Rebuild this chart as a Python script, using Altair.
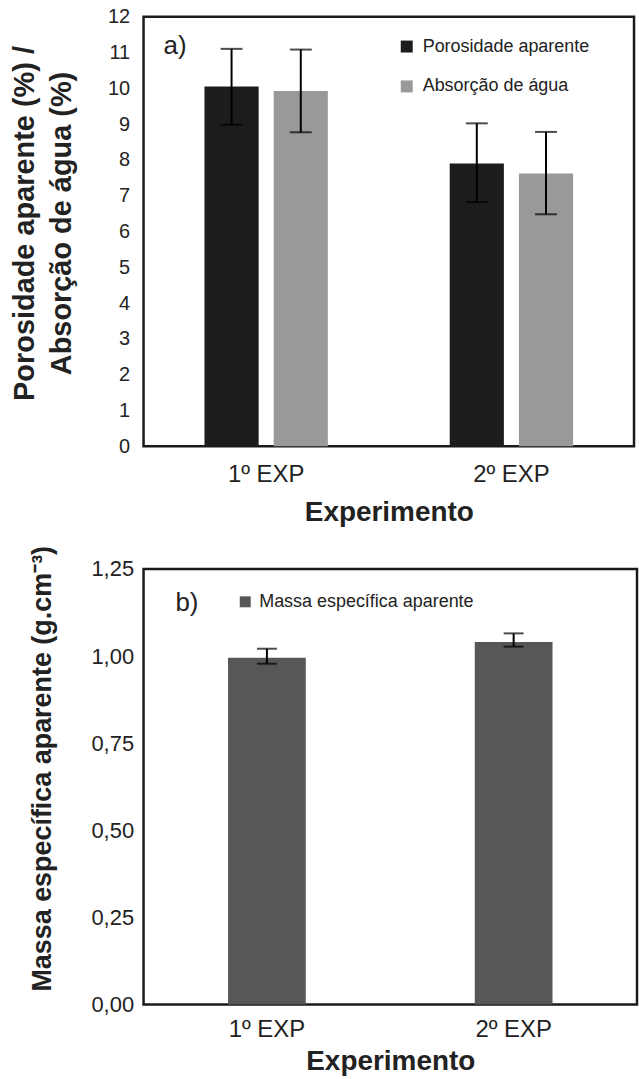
import altair as alt
import pandas as pd

# ---- data ----
experimentos = ["1º EXP", "2º EXP"]
series_a = ["Porosidade aparente", "Absorção de água"]
porosidade = [10.05, 7.90]
porosidade_inf = [8.98, 6.82]
porosidade_sup = [11.10, 9.02]
absorcao = [9.92, 7.62]
absorcao_inf = [8.77, 6.48]
absorcao_sup = [11.08, 8.78]

serie_b = ["Massa específica aparente"]
massa = [0.995, 1.040]
massa_inf = [0.978, 1.027]
massa_sup = [1.021, 1.065]

y_ticks_a = list(range(0, 13))
y_ticks_b = [0, 0.25, 0.5, 0.75, 1.0, 1.25]

FONT = "Liberation Sans"
TXT = "#222222"

# ---- tables ----
rows = []
for i, e in enumerate(experimentos):
    rows.append({"exp": e, "serie": series_a[0], "valor": porosidade[i],
                 "inf": porosidade_inf[i], "sup": porosidade_sup[i]})
    rows.append({"exp": e, "serie": series_a[1], "valor": absorcao[i],
                 "inf": absorcao_inf[i], "sup": absorcao_sup[i]})
df_a = pd.DataFrame(rows)

df_b = pd.DataFrame({"exp": experimentos, "serie": serie_b * 2, "valor": massa,
                     "inf": massa_inf, "sup": massa_sup})

title_a = ["Porosidade aparente (%) /", "Absorção de água (%)"]
title_b = "Massa específica aparente (g.cm⁻³)"


def x_axis(pad, tpad):
    return alt.Axis(labelAngle=0, ticks=False, domain=False, labelFontSize=24,
                    labelPadding=pad, titleFontSize=28, titleFontWeight="bold",
                    titlePadding=tpad)


def ya_axis():
    return alt.Axis(values=y_ticks_a, labelOverlap=False, ticks=False, domain=False,
                    grid=False, labelFontSize=20, labelPadding=14, titleFontSize=29,
                    titleFontWeight="bold", titlePadding=31, titleLineHeight=37, titleY=207)


def yb_axis():
    return alt.Axis(values=y_ticks_b, labelOverlap=False,
                    labelExpr="replace(format(datum.value, '.2f'), '.', ',')",
                    ticks=False, domain=False, grid=False, labelFontSize=22, labelPadding=10,
                    titleFontSize=27, titleFontWeight="bold", titlePadding=35, titleY=200)


# ---- panel a ----
xa = alt.X("exp:N", sort=experimentos, title="Experimento",
           scale=alt.Scale(paddingInner=0, paddingOuter=0), axis=x_axis(16, 12))
xo = alt.XOffset("serie:N", sort=series_a,
                 scale=alt.Scale(domain=series_a, paddingInner=0.2174, paddingOuter=0.88))
color_a = alt.Color("serie:N", sort=series_a,
                    scale=alt.Scale(domain=series_a, range=["#1c1c1c", "#999999"]),
                    legend=alt.Legend(title=None, orient="none", legendX=255, legendY=21,
                                      symbolType="square", symbolSize=144, symbolStrokeWidth=0,
                                      labelFontSize=18, labelOffset=7, rowPadding=22,
                                      labelLimit=400))

bars_a = alt.Chart(df_a).mark_bar().encode(
    x=xa, xOffset=xo,
    y=alt.Y("valor:Q", title=title_a, scale=alt.Scale(domain=[0, 12], nice=False), axis=ya_axis()),
    color=color_a)
err_a = alt.Chart(df_a).mark_rule(color="black", strokeWidth=2).encode(
    x=xa, xOffset=xo, y=alt.Y("inf:Q", title=title_a, axis=ya_axis()), y2="sup:Q")
caps_a = alt.Chart(df_a).transform_fold(["inf", "sup"], as_=["k", "v"]).mark_tick(
    color="black", thickness=2, size=22).encode(
    x=xa, xOffset=xo, y=alt.Y("v:Q", title=title_a, axis=ya_axis()))
tag_a = alt.Chart(pd.DataFrame({"t": ["a)"]})).mark_text(
    fontSize=26, align="left", baseline="middle", color=TXT).encode(
    text="t:N", x=alt.value(20), y=alt.value(29))

top = alt.layer(bars_a, err_a, caps_a, tag_a).properties(width=492, height=431)

# ---- panel b ----
xb = alt.X("exp:N", sort=experimentos, title="Experimento",
           scale=alt.Scale(paddingInner=0, paddingOuter=0), axis=x_axis(13, 6))
color_b = alt.Color("serie:N", scale=alt.Scale(domain=serie_b, range=["#575757"]),
                    legend=alt.Legend(title=None, orient="none", legendX=93, legendY=24,
                                      symbolType="square", symbolSize=121, symbolStrokeWidth=0,
                                      labelFontSize=18, labelOffset=5, labelLimit=400))

bars_b = alt.Chart(df_b).mark_bar(width=78).encode(
    x=xb,
    y=alt.Y("valor:Q", title=title_b, scale=alt.Scale(domain=[0, 1.25], nice=False), axis=yb_axis()),
    color=color_b)
err_b = alt.Chart(df_b).mark_rule(color="black", strokeWidth=2).encode(
    x=xb, y=alt.Y("inf:Q", title=title_b, axis=yb_axis()), y2="sup:Q")
caps_b = alt.Chart(df_b).transform_fold(["inf", "sup"], as_=["k", "v"]).mark_tick(
    color="black", thickness=2, size=20).encode(
    x=xb, y=alt.Y("v:Q", title=title_b, axis=yb_axis()))
tag_b = alt.Chart(pd.DataFrame({"t": ["b)"]})).mark_text(
    fontSize=26, align="left", baseline="middle", color=TXT).encode(
    text="t:N", x=alt.value(32), y=alt.value(34))

bottom = alt.layer(bars_b, err_b, caps_b, tag_b).properties(width=495, height=437)

chart = alt.vconcat(top, bottom, spacing=16).resolve_scale(
    color="independent", x="independent", y="independent"
).properties(
    padding={"left": 9, "top": 3, "right": 0, "bottom": 0}
).configure(font=FONT).configure_view(
    stroke="#1a1a1a", strokeWidth=2.5
).configure_axis(
    labelColor=TXT, titleColor=TXT, labelFont=FONT, titleFont=FONT, labelOverlap=False
).configure_legend(labelColor=TXT, labelFont=FONT, padding=0)

chart.save("out.html", embed_options={"renderer": "svg", "actions": False})
